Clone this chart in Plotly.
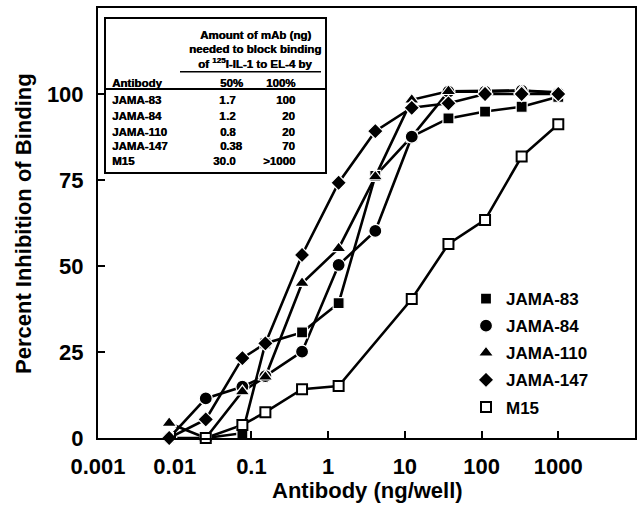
import plotly.graph_objects as go

# ---------------- data ----------------
doses = [0.00847, 0.0254, 0.0762, 0.152, 0.457, 1.37, 4.12, 12.3, 37.0, 111, 333, 1000]

series_names = ["JAMA-83", "JAMA-84", "JAMA-110", "JAMA-147", "M15"]
jama83 = [0, 0, 1.4, 27.5, 30.7, 39.2, 76.2, 87.6, 92.9, 94.9, 96.3, 99.2]
jama84 = [0, 11.5, 14.9, 18.0, 25.1, 50.3, 60.2, 87.6, 100.7, 100.7, 101.0, 100.2]
jama110 = [4.3, 0, 13.5, 17.8, 45.0, 55.1, 76.0, 98.3, 100.8, 100.8, 101.0, 100.5]
jama147 = [0, 5.4, 23.2, 27.5, 53.2, 74.2, 89.2, 96.0, 97.3, 100.0, 100.0, 100.0]
m15 = [None, 0, 3.8, 7.5, 14.2, 15.1, None, 40.4, 56.4, 63.4, 81.8, 91.2]
series_values = [jama83, jama84, jama110, jama147, m15]

x_tick_vals = [0.001, 0.01, 0.1, 1, 10, 100, 1000]
x_tick_text = ["0.001", "0.01", "0.1", "1", "10", "100", "1000"]
y_tick_vals = [0, 25, 50, 75, 100]

table_header = ["Amount of mAb (ng)", "needed to block binding",
                "of <sup>125</sup>I-IL-1 to EL-4 by"]
table_cols = ["Antibody", "50%", "100%"]
table_antibodies = ["JAMA-83", "JAMA-84", "JAMA-110", "JAMA-147", "M15"]
table_50 = ["1.7", "1.2", "0.8", "0.38", "30.0"]
table_100 = ["100", "20", "20", "70", ">1000"]

# ---------------- styles ----------------
FONT = "Liberation Sans, Arial, Helvetica, sans-serif"
W, H = 637, 508
L, R, T, B = 98, 2, 8, 70
PW, PH = W - L - R, H - T - B


def px(x):
    return (x - L) / PW


def py(y):
    return (H - B - y) / PH


symbols = ["square", "circle", "triangle-up", "diamond", "square"]
sizes = [11, 13, 13, 12, 10]
fills = ["black", "black", "black", "black", "white"]
outline_color = ["white", "white", "white", "white", "black"]
outline_width = [1.2, 1.2, 1.2, 1.2, 2]

fig = go.Figure()

# lines first
for name, vals in zip(series_names, series_values):
    fig.add_trace(go.Scatter(
        x=doses, y=vals, mode="lines", connectgaps=True,
        line=dict(color="black", width=2.6), showlegend=False,
        hoverinfo="skip", cliponaxis=False))

# markers on top
for i, (name, vals) in enumerate(zip(series_names, series_values)):
    fig.add_trace(go.Scatter(
        x=doses, y=vals, mode="markers", name=name, legendgroup=name,
        marker=dict(symbol=symbols[i], size=sizes[i], color=fills[i],
                    line=dict(color=outline_color[i], width=outline_width[i])),
        cliponaxis=False))

fig.update_xaxes(
    type="log", range=[-3, 4], tickvals=x_tick_vals, ticktext=x_tick_text,
    ticks="inside", ticklen=7, tickwidth=1.5, tickcolor="black",
    showline=True, linewidth=2, linecolor="black", mirror=True,
    showgrid=False, zeroline=False,
    tickfont=dict(family=FONT, size=22, color="black", weight="bold"),
    ticklabelstandoff=8)
fig.update_yaxes(
    range=[0, 125], tickvals=y_tick_vals,
    ticks="inside", ticklen=7, tickwidth=1.5, tickcolor="black",
    showline=True, linewidth=2, linecolor="black", mirror=True,
    showgrid=False, zeroline=False,
    tickfont=dict(family=FONT, size=22, color="black", weight="bold"),
    ticklabelstandoff=8)

annotations = []
# axis titles
annotations.append(dict(text="Antibody (ng/well)", x=px(367), y=py(491),
                         xref="paper", yref="paper", showarrow=False,
                         xanchor="center", yanchor="middle",
                         font=dict(family=FONT, size=22, color="black", weight="bold")))
annotations.append(dict(text="Percent Inhibition of Binding", x=px(23), y=py(224),
                         xref="paper", yref="paper", showarrow=False, textangle=-90,
                         xanchor="center", yanchor="middle",
                         font=dict(family=FONT, size=22, color="black", weight="bold")))

tfont = dict(family=FONT, size=11.5, color="black", weight="bold",
             shadow="0.4px 0px 0px black")


def tann(text, x, y, anchor):
    return dict(text=text, x=px(x), y=py(y), xref="paper", yref="paper",
                showarrow=False, xanchor=anchor, yanchor="middle",
                borderpad=0, borderwidth=0, font=tfont)


# table header
for txt, yy in zip(table_header, [35, 49.3, 63.3]):
    annotations.append(tann(txt, 255, yy, "center"))
annotations.append(tann(table_cols[0], 112, 82.7, "left"))
annotations.append(tann(table_cols[1], 231, 82.7, "center"))
annotations.append(tann(table_cols[2], 280, 82.7, "center"))

row_y = [100, 116, 131.5, 146.5, 161]
for ab, v50, v100, yy in zip(table_antibodies, table_50, table_100, row_y):
    annotations.append(tann(ab, 112, yy, "left"))
    ip, fp = v50.split(".")
    annotations.append(tann(ip, 226, yy, "right"))
    annotations.append(tann("." + fp, 226, yy, "left"))
    annotations.append(tann(v100, 295, yy, "right"))

shapes = [
    dict(type="rect", xref="paper", yref="paper", x0=px(105), x1=px(326), y0=py(173), y1=py(18),
         line=dict(color="black", width=2), fillcolor="white", layer="below"),
    dict(type="line", xref="paper", yref="paper", x0=px(180), x1=px(321), y0=py(71.7), y1=py(71.7),
         line=dict(color="black", width=1.5)),
    dict(type="line", xref="paper", yref="paper", x0=px(105), x1=px(326), y0=py(89), y1=py(89),
         line=dict(color="black", width=2)),
]

fig.update_layout(
    width=W, height=H, margin=dict(l=L, r=R, t=T, b=B, autoexpand=False),
    plot_bgcolor="white", paper_bgcolor="white",
    font=dict(family=FONT, color="black"),
    annotations=annotations, shapes=shapes,
    legend=dict(x=px(466), y=py(281), xanchor="left", yanchor="top",
                bgcolor="rgba(0,0,0,0)", tracegroupgap=2,
                font=dict(family=FONT, size=17, color="black", weight="bold")),
)

fig.write_html("out.html")
